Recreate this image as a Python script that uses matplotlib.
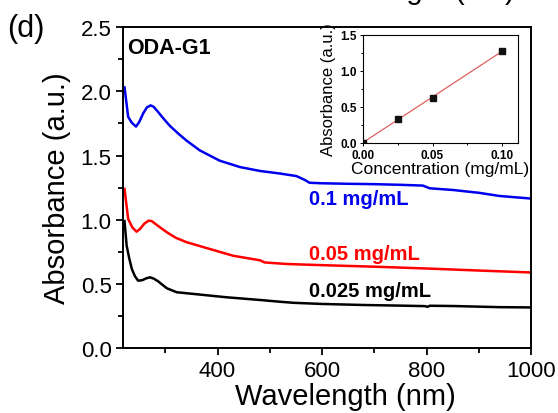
import numpy as np
import matplotlib
matplotlib.use("Agg")
import matplotlib.pyplot as plt
from matplotlib.ticker import MultipleLocator, FormatStrFormatter

plt.rcParams['font.family'] = ['Liberation Sans', 'DejaVu Sans']

# UV-vis spectra of ODA-G1 dispersions
wl_01 = [222, 229, 236, 244, 250, 258, 265, 272, 278, 285, 296, 309, 325, 341,
         366, 404, 443, 481, 519, 551, 567, 576, 600, 650, 700, 750, 793, 806,
         850, 900, 940, 1000]
abs_01 = [2.03, 1.80, 1.755, 1.725, 1.76, 1.83, 1.875, 1.89, 1.878, 1.845,
          1.79, 1.73, 1.67, 1.615, 1.54, 1.46, 1.41, 1.38, 1.36, 1.34, 1.31,
          1.288, 1.284, 1.280, 1.277, 1.272, 1.266, 1.245, 1.232, 1.21, 1.185,
          1.165]

wl_005 = [222, 229, 237, 245, 252, 260, 268, 274, 282, 292, 303, 320, 341, 385,
          430, 481, 490, 532, 576, 615, 700, 806, 900, 1000]
abs_005 = [1.24, 1.006, 0.94, 0.907, 0.93, 0.97, 0.993, 0.99, 0.965, 0.935,
           0.903, 0.86, 0.825, 0.773, 0.72, 0.685, 0.668, 0.656, 0.650, 0.645,
           0.635, 0.620, 0.605, 0.59]

wl_0025 = [222, 226, 231, 236, 242, 248, 256, 264, 271, 278, 286, 303, 322,
           354, 417, 481, 520, 545, 600, 678, 750, 798, 802, 806, 850, 940,
           1000]
abs_0025 = [0.99, 0.80, 0.70, 0.617, 0.56, 0.526, 0.53, 0.545, 0.552, 0.542,
            0.522, 0.467, 0.436, 0.423, 0.397, 0.376, 0.362, 0.354, 0.345,
            0.337, 0.332, 0.328, 0.322, 0.331, 0.329, 0.32, 0.318]

series_labels = ['0.1 mg/mL', '0.05 mg/mL', '0.025 mg/mL']
series_colors = ['#0000ee', '#ff0000', '#000000']
label_y = [1.165, 0.738, 0.45]

# calibration (inset)
conc = [0.0, 0.025, 0.05, 0.10]
conc_abs = [0.0, 0.332, 0.628, 1.274]

fig = plt.figure(figsize=(5.58, 4.14), dpi=100)
ax = fig.add_axes([0.2213, 0.1563, 0.7303, 0.7761])

for wl, ab, c in zip([wl_01, wl_005, wl_0025], [abs_01, abs_005, abs_0025],
                     series_colors):
    ax.plot(wl, ab, color=c, lw=1.8, solid_joinstyle='round')

for lab, c, y in zip(series_labels, series_colors, label_y):
    ax.text(575, y, lab, color=c, fontsize=14.5, fontweight='bold',
            ha='left', va='center')

ax.text(0.01, 0.968, 'ODA-G1', transform=ax.transAxes, fontsize=15.5,
        fontweight='bold', ha='left', va='top')

ax.set_xlim(220, 1000)
ax.set_ylim(0, 2.5)
ax.xaxis.set_minor_locator(MultipleLocator(100))
ax.yaxis.set_major_locator(MultipleLocator(0.5))
ax.yaxis.set_minor_locator(MultipleLocator(0.25))
ax.set_xticks([400, 600, 800, 1000])
ax.tick_params(which='both', direction='out', width=1.3, labelsize=16,
               top=False, right=False)
ax.tick_params(which='major', length=5)
ax.tick_params(which='minor', length=3.5)
ax.yaxis.set_major_formatter(FormatStrFormatter('%.1f'))
for s in ax.spines.values():
    s.set_linewidth(1.4)

ax.set_xlabel('Wavelength (nm)', fontsize=21, labelpad=1)
ax.xaxis.label.set_x(0.545)
ax.set_ylabel('Absorbance (a.u.)', fontsize=21, labelpad=7)

fig.text(0.012, 0.93, '(d)', fontsize=22, ha='left', va='center')
fig.text(0.725, 1.0 + 1 / 414, 'Wavelength (nm)', fontsize=21,
         ha='center', va='baseline')

# inset: absorbance vs concentration
ins = fig.add_axes([0.650, 0.6522, 0.2778, 0.2616])
slope, icpt = np.polyfit(conc, conc_abs, 1)
fit_x = np.array([conc[0], conc[-1]])
ins.plot(fit_x, slope * fit_x + icpt, color='#e06060', lw=0.9)
ins.plot(conc, conc_abs, ls='none', marker='s', ms=3.8, mfc='#111111',
         mec='#111111')
ins.set_xlim(0, 0.111)
ins.set_ylim(0, 1.5)
ins.set_xticks([0.0, 0.05, 0.10])
ins.set_yticks([0.0, 0.5, 1.0, 1.5])
ins.xaxis.set_minor_locator(MultipleLocator(0.025))
ins.yaxis.set_minor_locator(MultipleLocator(0.25))
ins.xaxis.set_major_formatter(FormatStrFormatter('%.2f'))
ins.yaxis.set_major_formatter(FormatStrFormatter('%.1f'))
ins.tick_params(which='both', direction='out', width=0.7, labelsize=8.5,
                pad=1.5, top=False, right=False)
ins.tick_params(which='major', length=2.5)
ins.tick_params(which='minor', length=1.5)
for t in ins.get_xticklabels() + ins.get_yticklabels():
    t.set_fontweight('bold')
for s in ins.spines.values():
    s.set_linewidth(0.8)
ins.set_xlabel('Concentration (mg/mL)', fontsize=12.5, labelpad=0)
ins.set_ylabel('Absorbance (a.u.)', fontsize=12, labelpad=3)

fig.savefig('out.png', dpi=100)
